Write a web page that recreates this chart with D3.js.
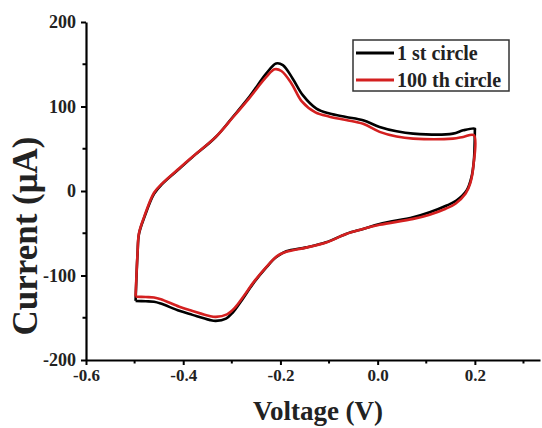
<!DOCTYPE html>
<html>
<head>
<meta charset="utf-8">
<script src="https://cdn.jsdelivr.net/npm/d3@7"></script>
<style>
  body { margin: 0; background: #fff; }
  text { font-family: "Liberation Serif", "Times New Roman", serif; font-weight: bold; fill: #222; }
</style>
</head>
<body>
<div id="chart"></div>
<script>
// 1st circle: forward scan (upper branch) then reverse scan (lower branch)
const voltage1 = [-0.498, -0.494, -0.491, -0.480, -0.460, -0.443, -0.408, -0.381, -0.333, -0.298, -0.264, -0.229, -0.209, -0.195, -0.175, -0.154, -0.126, -0.099, -0.065, -0.030, 0.004, 0.039, 0.073, 0.155, 0.176, 0.200,
  0.200, 0.198, 0.193, 0.183, 0.162, 0.142, 0.107, 0.073, 0.004, -0.030, -0.065, -0.106, -0.147, -0.188, -0.209, -0.229, -0.257, -0.278, -0.298, -0.312, -0.333, -0.346, -0.381, -0.408, -0.446, -0.460, -0.477, -0.498];
const current1 = [-130, -74.6, -50.8, -31.1, -3.4, 8.5, 26.3, 40.1, 63.9, 87.6, 111.4, 139.1, 151.0, 149.0, 133.2, 113.4, 97.5, 91.6, 87.6, 83.7, 75.7, 70.6, 67.9, 67.9, 71.8, 73.8,
  72, 36.2, 16.4, 0.6, -11.3, -17.2, -25.2, -31.1, -39.0, -44.9, -50.8, -60.7, -66.7, -71.4, -78.5, -90.4, -110.2, -128.0, -143.8, -151.0, -153.7, -152.5, -146.6, -141.8, -133.2, -131, -130.5, -130];

// 100th circle
const voltage100 = [-0.498, -0.494, -0.491, -0.480, -0.460, -0.443, -0.408, -0.381, -0.333, -0.298, -0.264, -0.229, -0.212, -0.198, -0.177, -0.156, -0.128, -0.099, -0.065, -0.030, 0.004, 0.039, 0.073, 0.155, 0.176, 0.198,
  0.197, 0.191, 0.181, 0.160, 0.140, 0.107, 0.073, 0.004, -0.030, -0.065, -0.106, -0.147, -0.188, -0.207, -0.226, -0.254, -0.275, -0.295, -0.310, -0.333, -0.346, -0.381, -0.408, -0.446, -0.460, -0.477, -0.498];
const current100 = [-125, -74, -50, -30, -2, 9, 27, 40.5, 64, 87, 110, 135, 144, 142, 127, 106, 93, 88, 84, 79.5, 70, 64.5, 62, 62, 64, 66,
  30, 10, -3, -15, -21, -28, -33, -40, -45, -51, -61, -67, -72, -77, -88, -107, -124, -139, -146, -149, -148, -142, -137, -128, -126, -125.5, -125];

const seriesNames = ['1 st circle', '100 th circle'];
const seriesColors = ['#000000', '#d42020'];

const xTicks = [-0.6, -0.4, -0.2, 0.0, 0.2];
const xMinorTicks = [-0.5, -0.3, -0.1, 0.1, 0.3];
const yTicks = [-200, -100, 0, 100, 200];
const yMinorTicks = [-150, -50, 50, 150];

const width = 542, height = 428;

const svg = d3.select('#chart')
  .append('svg')
  .attr('width', width)
  .attr('height', height);

const x = d3.scaleLinear().domain([-0.6, 0.334]).range([86, 540]);
const y = d3.scaleLinear().domain([-200, 200]).range([360, 22]);

// plain hyphen for negatives, like the original
const hyphen = f => d => f(d).replace('\u2212', '-');

// axes
const xAxis = svg.append('g')
  .attr('transform', `translate(0,${y(-200)})`)
  .call(d3.axisBottom(x).tickValues(xTicks).tickFormat(hyphen(d3.format('.1f'))).tickSize(5).tickPadding(4).tickSizeOuter(0));
xAxis.selectAll('text').attr('font-size', 17).attr('fill', '#222');

xAxis.selectAll('.minor')
  .data(xMinorTicks)
  .enter().append('line')
  .attr('class', 'minor')
  .attr('x1', d => x(d)).attr('x2', d => x(d))
  .attr('y1', 0).attr('y2', 3.5)
  .attr('stroke', '#000').attr('stroke-width', 2);

const yAxis = svg.append('g')
  .attr('transform', `translate(${x(-0.6)},0)`)
  .call(d3.axisLeft(y).tickValues(yTicks).tickFormat(hyphen(d3.format('d'))).tickSize(5).tickPadding(5).tickSizeOuter(0));
yAxis.selectAll('text').attr('font-size', 18).attr('fill', '#222');

yAxis.selectAll('.minor')
  .data(yMinorTicks)
  .enter().append('line')
  .attr('class', 'minor')
  .attr('y1', d => y(d)).attr('y2', d => y(d))
  .attr('x1', 0).attr('x2', -3.5)
  .attr('stroke', '#000').attr('stroke-width', 2);

svg.selectAll('.domain').attr('stroke', '#000').attr('stroke-width', 2.2);
svg.selectAll('.tick line').attr('stroke', '#000').attr('stroke-width', 2);

// axis titles
svg.append('text')
  .attr('x', 318)
  .attr('y', 420)
  .attr('text-anchor', 'middle')
  .attr('font-size', 27)
  .text('Voltage (V)');

svg.append('text')
  .attr('transform', 'translate(37,236) rotate(-90)')
  .attr('text-anchor', 'middle')
  .attr('font-size', 35)
  .text('Current (\u03bcA)');

// curves
const line = d3.line()
  .x(d => x(d[0]))
  .y(d => y(d[1]))
  .curve(d3.curveCatmullRom.alpha(0.5));

const series = [
  d3.zip(voltage1, current1),
  d3.zip(voltage100, current100)
];

svg.append('g')
  .selectAll('path')
  .data(series)
  .enter().append('path')
  .attr('d', line)
  .attr('fill', 'none')
  .attr('stroke', (d, i) => seriesColors[i])
  .attr('stroke-width', 2.6)
  .attr('stroke-linejoin', 'round');

// legend
const legend = svg.append('g');
legend.append('rect')
  .attr('x', 353).attr('y', 40)
  .attr('width', 156).attr('height', 51)
  .attr('fill', '#fff')
  .attr('stroke', '#333')
  .attr('stroke-width', 1.5);

const rows = legend.selectAll('.row')
  .data(seriesNames)
  .enter().append('g')
  .attr('class', 'row')
  .attr('transform', (d, i) => `translate(0,${53 + i * 27})`);

rows.append('line')
  .attr('x1', 356).attr('x2', 394)
  .attr('stroke', (d, i) => seriesColors[i])
  .attr('stroke-width', 3);

rows.append('text')
  .attr('x', 397)
  .attr('y', 6.5)
  .attr('font-size', 20)
  .text(d => d);
</script>
</body>
</html>
